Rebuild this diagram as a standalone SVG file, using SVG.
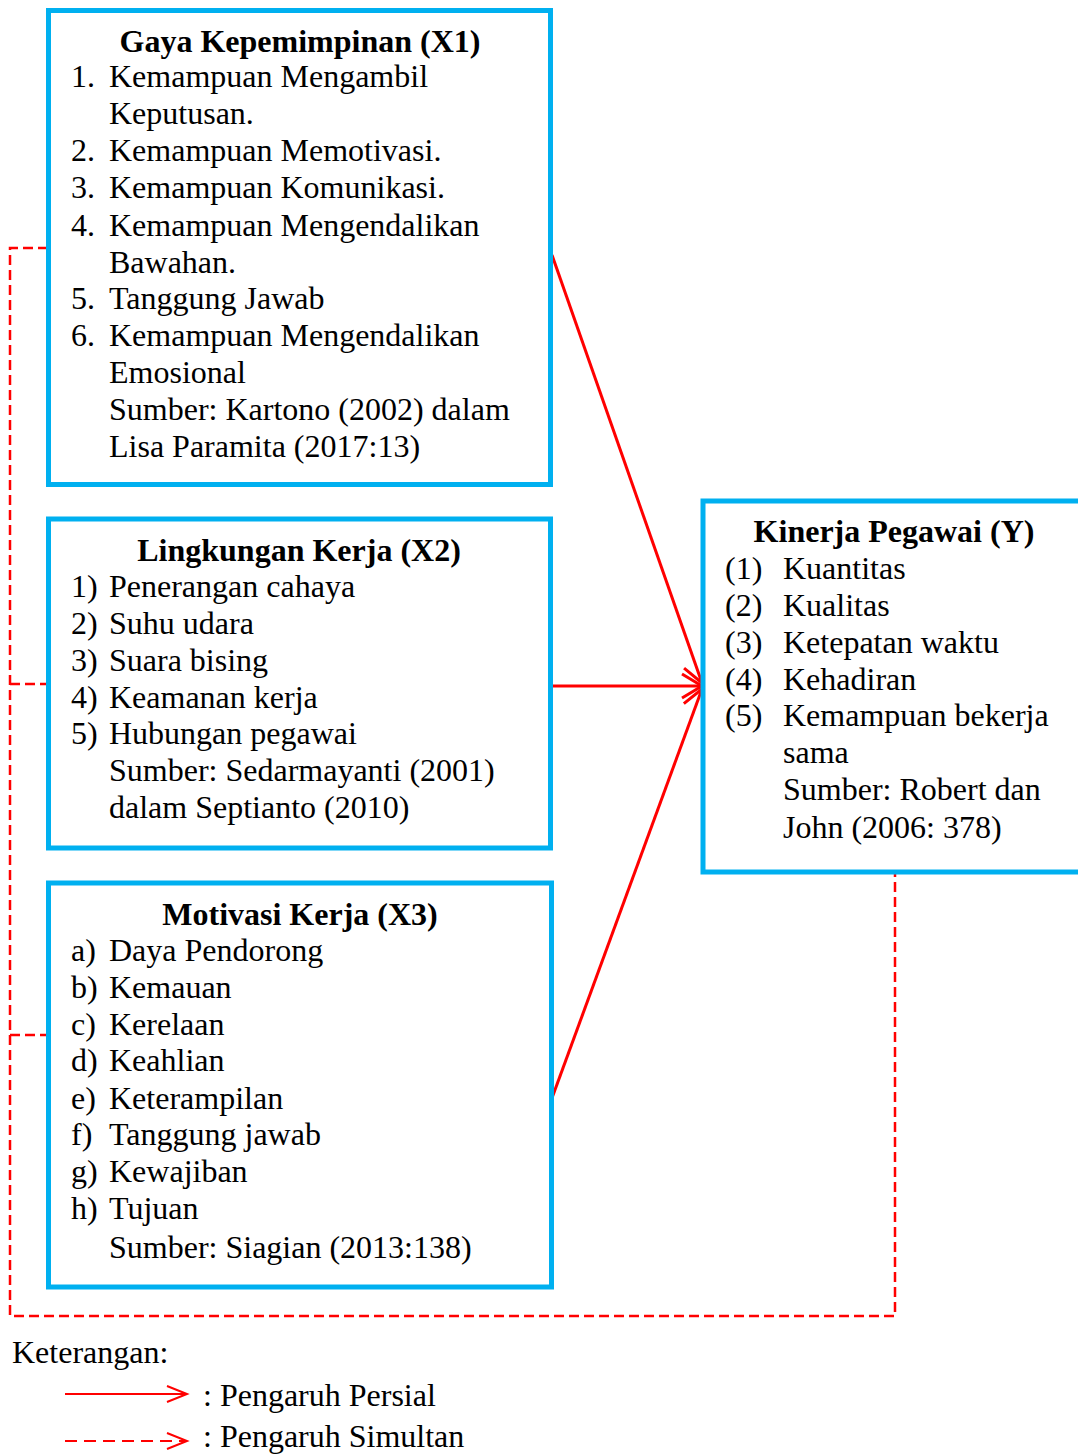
<svg xmlns="http://www.w3.org/2000/svg" width="1078" height="1454" viewBox="0 0 1078 1454">
<style>
.box{fill:#fff;stroke:#00B0F0;stroke-width:5}
text{font-family:"Liberation Serif","Times New Roman",serif;font-size:32px;fill:#000}
.t{font-weight:bold;text-anchor:middle}
.s{fill:none;stroke:#FF0000;stroke-width:3}
.d{fill:none;stroke:#FF0000;stroke-width:2.5;stroke-dasharray:10 5}
</style>
<defs>
<marker id="ah" markerUnits="userSpaceOnUse" viewBox="-22 -15 24 30" refX="0" refY="0" markerWidth="24" markerHeight="30" orient="auto" overflow="visible">
<path d="M-20,-12 L0,0 L-20,12" fill="none" stroke="#FF0000" stroke-width="3"/>
</marker>
<marker id="ahs" markerUnits="userSpaceOnUse" viewBox="-22 -10 24 20" refX="0" refY="0" markerWidth="24" markerHeight="20" orient="auto" overflow="visible">
<path d="M-20,-8 L0,0 L-20,8" fill="none" stroke="#FF0000" stroke-width="2"/>
</marker>
</defs>
<g id="connectors">
<path class="d" d="M48,248 H10 V1316 H895 V872"/>
<path class="d" d="M10,684 H48"/>
<path class="d" d="M10,1035 H48"/>
<line class="s" x1="552" y1="255" x2="702" y2="683" marker-end="url(#ah)"/>
<line class="s" x1="552" y1="686" x2="702" y2="686" marker-end="url(#ah)"/>
<line class="s" x1="552" y1="1098" x2="702" y2="689" marker-end="url(#ah)"/>
</g>
<g id="x1">
<rect class="box" x="48.5" y="10.5" width="502" height="474"/>
<text class="t" x="300" y="52">Gaya Kepemimpinan (X1)</text>
<text x="71" y="87">1.</text><text x="109" y="87">Kemampuan Mengambil</text>
<text x="109" y="124">Keputusan.</text>
<text x="71" y="161">2.</text><text x="109" y="161">Kemampuan Memotivasi.</text>
<text x="71" y="198">3.</text><text x="109" y="198">Kemampuan Komunikasi.</text>
<text x="71" y="236">4.</text><text x="109" y="236">Kemampuan Mengendalikan</text>
<text x="109" y="273">Bawahan.</text>
<text x="71" y="309">5.</text><text x="109" y="309">Tanggung Jawab</text>
<text x="71" y="346">6.</text><text x="109" y="346">Kemampuan Mengendalikan</text>
<text x="109" y="383">Emosional</text>
<text x="109" y="420">Sumber: Kartono (2002) dalam</text>
<text x="109" y="457">Lisa Paramita (2017:13)</text>
</g>
<g id="x2">
<rect class="box" x="48.5" y="519" width="502" height="329"/>
<text class="t" x="299" y="561">Lingkungan Kerja (X2)</text>
<text x="71" y="597">1)</text><text x="109" y="597">Penerangan cahaya</text>
<text x="71" y="634">2)</text><text x="109" y="634">Suhu udara</text>
<text x="71" y="671">3)</text><text x="109" y="671">Suara bising</text>
<text x="71" y="708">4)</text><text x="109" y="708">Keamanan kerja</text>
<text x="71" y="744">5)</text><text x="109" y="744">Hubungan pegawai</text>
<text x="109" y="781">Sumber: Sedarmayanti (2001)</text>
<text x="109" y="818">dalam Septianto (2010)</text>
</g>
<g id="x3">
<rect class="box" x="48.5" y="883" width="503" height="404"/>
<text class="t" x="300" y="925">Motivasi Kerja (X3)</text>
<text x="71" y="961">a)</text><text x="109" y="961">Daya Pendorong</text>
<text x="71" y="998">b)</text><text x="109" y="998">Kemauan</text>
<text x="71" y="1035">c)</text><text x="109" y="1035">Kerelaan</text>
<text x="71" y="1071">d)</text><text x="109" y="1071">Keahlian</text>
<text x="71" y="1109">e)</text><text x="109" y="1109">Keterampilan</text>
<text x="71" y="1145">f)</text><text x="109" y="1145">Tanggung jawab</text>
<text x="71" y="1182">g)</text><text x="109" y="1182">Kewajiban</text>
<text x="71" y="1219">h)</text><text x="109" y="1219">Tujuan</text>
<text x="109" y="1258">Sumber: Siagian (2013:138)</text>
</g>
<g id="y">
<rect class="box" x="703" y="501" width="400" height="371"/>
<text class="t" x="894" y="542">Kinerja Pegawai (Y)</text>
<text x="725" y="579">(1)</text><text x="783" y="579">Kuantitas</text>
<text x="725" y="616">(2)</text><text x="783" y="616">Kualitas</text>
<text x="725" y="653">(3)</text><text x="783" y="653">Ketepatan waktu</text>
<text x="725" y="690">(4)</text><text x="783" y="690">Kehadiran</text>
<text x="725" y="726">(5)</text><text x="783" y="726">Kemampuan bekerja</text>
<text x="783" y="763">sama</text>
<text x="783" y="800">Sumber: Robert dan</text>
<text x="783" y="838">John (2006: 378)</text>
</g>
<g id="legend">
<text x="12" y="1363">Keterangan:</text>
<line x1="65" y1="1394" x2="187" y2="1394" stroke="#FF0000" stroke-width="2" marker-end="url(#ahs)"/>
<text x="203" y="1406">: Pengaruh Persial</text>
<line x1="65" y1="1441" x2="187" y2="1441" stroke="#FF0000" stroke-width="2" stroke-dasharray="12 7" marker-end="url(#ahs)"/>
<text x="203" y="1447">: Pengaruh Simultan</text>
</g>
</svg>
